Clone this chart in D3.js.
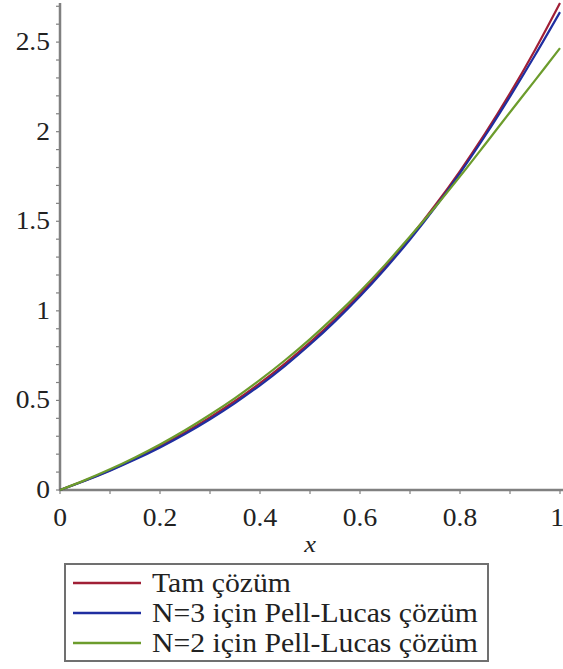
<!DOCTYPE html>
<html>
<head>
<meta charset="utf-8">
<script src="https://cdn.jsdelivr.net/npm/d3@7"></script>
<style>
  html, body { margin: 0; padding: 0; background: #fff; overflow: hidden; }
  svg { display: block; }
  .serif { font-family: "Liberation Serif", "Times New Roman", Times, "DejaVu Serif", "Noto Serif", serif; }
</style>
</head>
<body>
<svg id="chart" width="563" height="669"></svg>
<script>
// ---- data ----
const xValues = [0, 0.05, 0.1, 0.15, 0.2, 0.25, 0.3, 0.35, 0.4, 0.45, 0.5,
                 0.55, 0.6, 0.65, 0.7, 0.75, 0.8, 0.85, 0.9, 0.95, 1.0];
const exactValues = [0, 0.0526, 0.1105, 0.1743, 0.2443, 0.3210, 0.4050, 0.4967, 0.5967, 0.7057, 0.8244,
                     0.9533, 1.0933, 1.2451, 1.4096, 1.5878, 1.7804, 1.9887, 2.2136, 2.4564, 2.7183];
const n3Values = [0, 0.0515, 0.1080, 0.1698, 0.2378, 0.3126, 0.3949, 0.4854, 0.5845, 0.6932, 0.8119,
                  0.9411, 1.0815, 1.2337, 1.3985, 1.5767, 1.7692, 1.9760, 2.1960, 2.4264, 2.6672];
const n2Values = [0, 0.0551, 0.1155, 0.1818, 0.2543, 0.3335, 0.4200, 0.5132, 0.6147, 0.7242, 0.8424,
                  0.9703, 1.1083, 1.2566, 1.4146, 1.5778, 1.7504, 1.9287, 2.1086, 2.2864, 2.4663];
const seriesNames = ["Tam çözüm", "N=3 için Pell-Lucas çözüm", "N=2 için Pell-Lucas çözüm"];
const seriesColors = ["#a01f36", "#1f2ea0", "#6c9c2c"];
const xTickLabels = ["0", "0.2", "0.4", "0.6", "0.8", "1"];
const xTickValues = [0, 0.2, 0.4, 0.6, 0.8, 1];
const yTickLabels = ["0", "0.5", "1", "1.5", "2", "2.5"];
const yTickValues = [0, 0.5, 1, 1.5, 2, 2.5];
const xAxisTitle = "x";

// ---- layout ----
const svg = d3.select("#chart");
const x = d3.scaleLinear().domain([0, 1]).range([60, 560]);
const y = d3.scaleLinear().domain([0, 2.71828]).range([490, 3]);
const axisColor = "#808080";
const stretch = 1.1;

// minor ticks
const yMinor = d3.range(0, 28).map(i => i / 10).filter(v => v <= 2.72);
const xMinor = d3.range(0, 11).map(i => i / 10);

svg.append("g").selectAll("line").data(yMinor).join("line")
  .attr("x1", x(0) - 4).attr("x2", x(0))
  .attr("y1", d => y(d)).attr("y2", d => y(d))
  .attr("stroke", axisColor).attr("stroke-width", 1.2);

svg.append("g").selectAll("line").data(xMinor).join("line")
  .attr("x1", d => x(d)).attr("x2", d => x(d))
  .attr("y1", y(0)).attr("y2", y(0) + 4)
  .attr("stroke", axisColor).attr("stroke-width", 1.2);

// axis lines
svg.append("line").attr("x1", x(0)).attr("x2", x(0)).attr("y1", y(0) + 1).attr("y2", 3)
  .attr("stroke", axisColor).attr("stroke-width", 2.5);
svg.append("line").attr("x1", x(0) - 1).attr("x2", 563).attr("y1", y(0)).attr("y2", y(0))
  .attr("stroke", axisColor).attr("stroke-width", 2.5);

// tick labels
svg.append("g").selectAll("text").data(yTickValues).join("text")
  .attr("class", "serif")
  .attr("transform", d => `translate(50,${y(d) + 8}) scale(${stretch},1)`)
  .attr("text-anchor", "end")
  .attr("font-size", 25).attr("fill", "#222")
  .text((d, i) => yTickLabels[i]);

svg.append("g").selectAll("text").data(xTickValues).join("text")
  .attr("class", "serif")
  .attr("transform", d => `translate(${Math.min(x(d), 557)},526) scale(${stretch},1)`)
  .attr("text-anchor", "middle")
  .attr("font-size", 25).attr("fill", "#222")
  .text((d, i) => xTickLabels[i]);

svg.append("text")
  .attr("class", "serif")
  .attr("transform", `translate(310,552) scale(${stretch},1)`)
  .attr("text-anchor", "middle")
  .attr("font-style", "italic").attr("font-size", 24).attr("fill", "#222")
  .text(xAxisTitle);

// curves
const line = d3.line().x(d => x(d[0])).y(d => y(d[1])).curve(d3.curveCatmullRom);
const allSeries = [exactValues, n3Values, n2Values];
allSeries.forEach((vals, i) => {
  svg.append("path")
    .datum(xValues.map((xv, j) => [xv, vals[j]]))
    .attr("d", line)
    .attr("fill", "none")
    .attr("stroke", seriesColors[i])
    .attr("stroke-width", 2.2);
});

// legend
const lg = svg.append("g");
lg.append("rect").attr("x", 65).attr("y", 564).attr("width", 423).attr("height", 97)
  .attr("fill", "#fff").attr("stroke", "#707070").attr("stroke-width", 2);
seriesNames.forEach((name, i) => {
  const ly = 583 + i * 30;
  lg.append("line").attr("x1", 73).attr("x2", 141).attr("y1", ly).attr("y2", ly)
    .attr("stroke", seriesColors[i]).attr("stroke-width", 2.5);
  lg.append("text")
    .attr("class", "serif")
    .attr("transform", `translate(152,${ly + 9}) scale(${stretch},1)`)
    .attr("font-size", 27).attr("fill", "#222")
    .text(name);
});
</script>
</body>
</html>
